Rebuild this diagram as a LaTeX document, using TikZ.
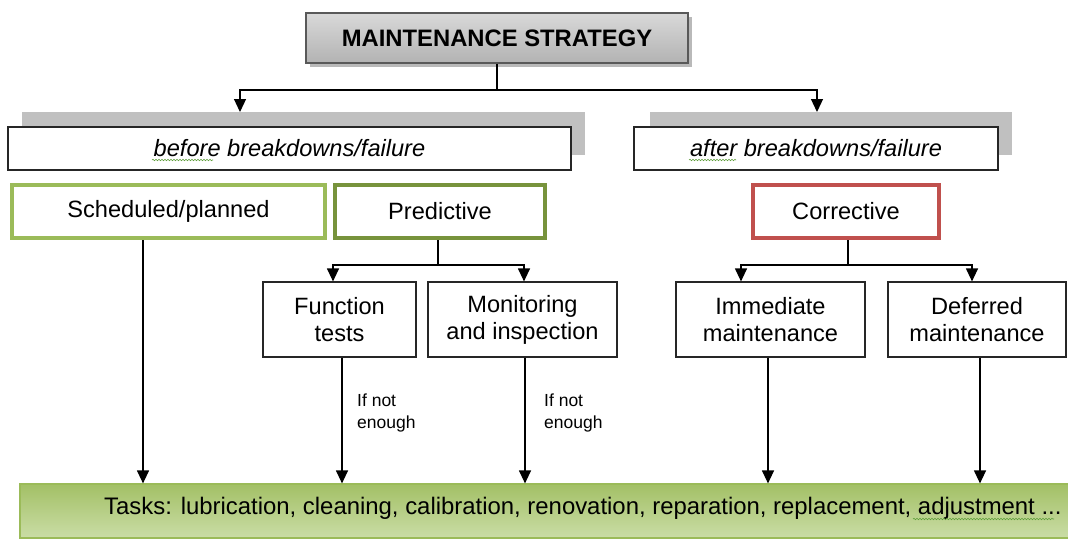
\documentclass[tikz,border=0pt]{standalone}
\usepackage{fontspec}
\setmainfont{Liberation Sans}
\usetikzlibrary{arrows.meta,shadows,decorations.pathmorphing}
\definecolor{gA}{HTML}{9BBB59}
\definecolor{gB}{HTML}{77933C}
\definecolor{rC}{HTML}{C0504D}
\definecolor{shd}{HTML}{C0C0C0}
\definecolor{tTop}{HTML}{A3C066}
\definecolor{tBot}{HTML}{CADDA6}
\definecolor{wavy}{HTML}{5E9E3A}
\tikzset{
  base/.style={font=\fontsize{23.6}{27}\selectfont, align=center, inner sep=0pt},
  wbox/.style={base, draw=black!85, line width=1.2pt, fill=white},
  cbox/.style={base, fill=white, line width=4pt},
  shbox/.style={fill=shd, draw=none, inner sep=0pt},
  arr/.style={line width=1.2pt, -{Triangle[length=13pt,width=12pt]}},
  ln/.style={line width=1.2pt},
  lbl/.style={font=\fontsize{17.5}{22}\selectfont, align=left, inner sep=0pt},
  squig/.style={draw=wavy, line width=0.6pt, decorate, decoration={snake, amplitude=0.7pt, segment length=3pt}}
}
\begin{document}
\begin{tikzpicture}[x=1pt,y=-1pt]
\useasboundingbox[fill=white] (0,0) rectangle (1068,539);
% title
\node[base, font=\fontsize{23.8}{27}\selectfont\bfseries, draw=black!65, line width=1.2pt,
  top color=gray!30, middle color=gray!4, bottom color=gray!60,
  minimum width=382pt, minimum height=50pt,
  drop shadow={shadow xshift=4pt, shadow yshift=-4pt, fill=gray!55, opacity=1}]
  (ms) at (497,38) {MAINTENANCE STRATEGY};
% level 1
\node[shbox, minimum width=563pt, minimum height=43pt] (bsh) at (303.5,133.5) {};
\node[wbox, minimum width=563pt, minimum height=43pt, font=\fontsize{23.6}{27}\selectfont\itshape] (before) at (289.5,148.5) {before breakdowns/failure};
\node[shbox, minimum width=362pt, minimum height=43pt] (ash) at (831,133.5) {};
\node[wbox, minimum width=364pt, minimum height=43pt, font=\fontsize{23.6}{27}\selectfont\itshape] (after) at (816,148.5) {after breakdowns/failure};
\draw[squig] (152,160) -- (213,160);
\draw[squig] (689,160) -- (736,160);
% level 2
\node[cbox, draw=gA, minimum width=313pt, minimum height=53pt] (sched) at (168.5,211.5) {Scheduled/planned};
\node[cbox, draw=gB, minimum width=210pt, minimum height=53pt] (pred) at (440,211.5) {Predictive};
\node[cbox, draw=rC, minimum width=186pt, minimum height=53pt] (corr) at (846,211.5) {Corrective};
% level 3
\node[wbox, minimum width=153pt, minimum height=75pt] (ft) at (339.5,319.5) {Function\\tests};
\node[wbox, minimum width=189pt, minimum height=75pt] (mon) at (522.5,319.5) {Monitoring\\and inspection};
\node[wbox, minimum width=189pt, minimum height=75pt] (imm) at (770.5,319.5) {Immediate\\maintenance};
\node[wbox, minimum width=178pt, minimum height=75pt] (def) at (977,319.5) {Deferred\\maintenance};
% tasks
\node[base, draw=gA, line width=1.2pt, top color=tTop, bottom color=tBot,
  minimum width=1060pt, minimum height=54pt] (tasks) at (550,511) {};
\node[base, anchor=west, font=\fontsize{23.9}{27}\selectfont] (tasktxt) at (104,508) {Tasks: lubrication, cleaning, calibration, renovation, reparation, replacement, adjustment ...};
\draw[squig] (913,519) -- (1054,519);
% labels
\node[lbl, anchor=west] (l1) at (357,413) {If not\\enough};
\node[lbl, anchor=west] (l2) at (544,413) {If not\\enough};
% connectors top
\coordinate (j0) at (ms.south |- 0,90);
\coordinate (ba) at (240,112);
\coordinate (aa) at (817,112);
\draw[ln] (ms.south) -- (j0);
\draw[arr] (j0) -| (ba);
\draw[arr] (j0) -| (aa);
% predictive fork
\coordinate (pj) at ([xshift=-2pt]pred.south |- 0,265);
\draw[ln] ([xshift=-2pt]pred.south) -- (pj);
\draw[arr] (pj) -| ([xshift=-6.5pt]ft.north);
\draw[arr] (pj) -| ([xshift=1.5pt]mon.north);
% corrective fork
\coordinate (cj) at ([xshift=2pt]corr.south |- 0,265);
\draw[ln] ([xshift=2pt]corr.south) -- (cj);
\draw[arr] (cj) -| ([xshift=-29.5pt]imm.north);
\draw[arr] (cj) -| ([xshift=-5pt]def.north);
% down to tasks
\draw[arr] ([xshift=-25.5pt]sched.south) -- ([xshift=-25.5pt]sched.south |- tasks.north);
\draw[arr] ([xshift=2.5pt]ft.south) -- ([xshift=2.5pt]ft.south |- tasks.north);
\draw[arr] ([xshift=2.5pt]mon.south) -- ([xshift=2.5pt]mon.south |- tasks.north);
\draw[arr] ([xshift=-2.5pt]imm.south) -- ([xshift=-2.5pt]imm.south |- tasks.north);
\draw[arr] ([xshift=3pt]def.south) -- ([xshift=3pt]def.south |- tasks.north);
\end{tikzpicture}
\end{document}
